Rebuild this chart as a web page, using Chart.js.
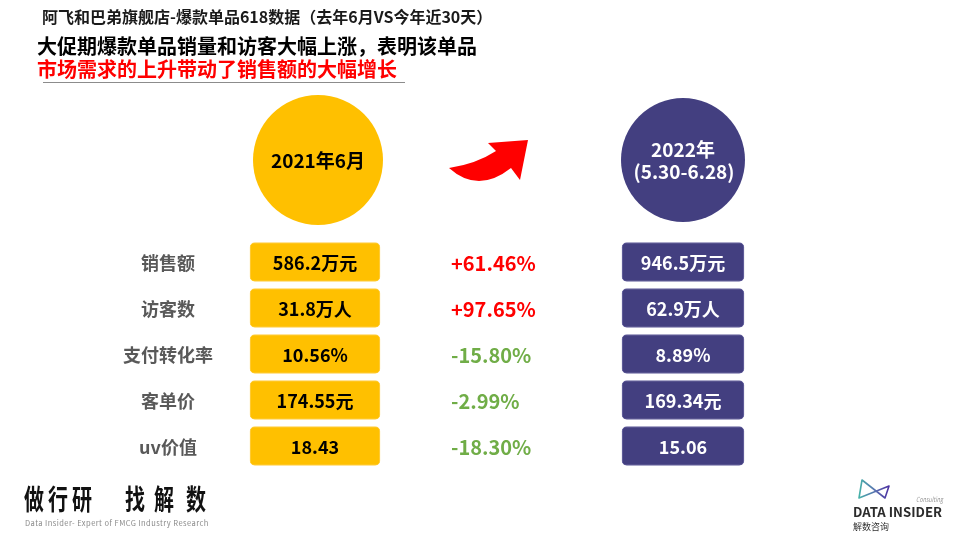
<!DOCTYPE html>
<html>
<head>
<meta charset="utf-8">
<script src="https://cdn.jsdelivr.net/npm/chart.js@4"></script>
<style>
html,body{margin:0;padding:0;background:#fff;}
#wrap{width:960px;height:540px;position:relative;}
</style>
</head>
<body>
<div id="wrap"><canvas id="c" width="960" height="540"></canvas></div>
<script>
// ---- data ----
const categories = ['销售额', '访客数', '支付转化率', '客单价', 'uv价值'];
const values2021 = [586.2, 31.8, 10.56, 174.55, 18.43];
const values2022 = [946.5, 62.9, 8.89, 169.34, 15.06];
const units = ['万元', '万人', '%', '元', ''];
const changes = [61.46, 97.65, -15.80, -2.99, -18.30];
const period2021 = '2021年6月';
const period2022 = ['2022年', '(5.30-6.28)'];
const titleTop = '阿飞和巴弟旗舰店-爆款单品618数据（去年6月VS今年近30天）';
const titleMain = '大促期爆款单品销量和访客大幅上涨，表明该单品';
const titleRed = '市场需求的上升带动了销售额的大幅增长';

// ---- layout (not data) ----
const BOX2021 = [250, 380];
const BOX2022 = [622, 744];
const FONT = '"Noto Sans CJK SC", "Noto Sans", sans-serif';
const YELLOW = '#FFC000';
const NAVY = '#433F80';

function fmt(v, u) { return String(v) + u; }
function fmtChange(v) { return (v > 0 ? '+' : '') + v.toFixed(2) + '%'; }

const decor = {
  id: 'decor',
  beforeDraw(chart) {
    const ctx = chart.ctx;
    ctx.save();
    ctx.fillStyle = '#fff';
    ctx.fillRect(0, 0, chart.width, chart.height);
    ctx.restore();
  },
  afterDatasetsDraw(chart) {
    const ctx = chart.ctx;
    const yScale = chart.scales.y;
    ctx.save();
    ctx.textBaseline = 'middle';
    // titles
    ctx.fillStyle = '#1a1a1a';
    ctx.font = 'bold 16px ' + FONT;
    ctx.textAlign = 'left';
    ctx.fillText(titleTop, 42, 17);
    ctx.font = 'bold 20px ' + FONT;
    ctx.fillStyle = '#000';
    ctx.fillText(titleMain, 37, 46);
    ctx.fillStyle = '#FF0000';
    ctx.fillText(titleRed, 37, 69);
    ctx.strokeStyle = '#8c8c8c';
    ctx.lineWidth = 1.2;
    ctx.beginPath(); ctx.moveTo(43, 82.5); ctx.lineTo(405, 82.5); ctx.stroke();

    // circles
    ctx.fillStyle = YELLOW;
    ctx.beginPath(); ctx.arc(318, 160, 65, 0, Math.PI * 2); ctx.fill();
    ctx.fillStyle = NAVY;
    ctx.beginPath(); ctx.arc(683, 160, 62, 0, Math.PI * 2); ctx.fill();
    ctx.textAlign = 'center';
    ctx.font = 'bold 19px ' + FONT;
    ctx.fillStyle = '#000';
    ctx.fillText(period2021, 318, 161);
    ctx.fillStyle = '#fff';
    ctx.fillText(period2022[0], 683, 150);
    ctx.fillText(period2022[1], 684, 172);

    // arrow
    ctx.fillStyle = '#FF0000';
    ctx.beginPath();
    ctx.moveTo(449, 168);
    ctx.quadraticCurveTo(476, 164, 496, 151);
    ctx.lineTo(488, 143);
    ctx.lineTo(528, 140);
    ctx.lineTo(520, 180);
    ctx.lineTo(511, 168);
    ctx.quadraticCurveTo(478, 194, 449, 168);
    ctx.closePath();
    ctx.fill();

    // row labels, values, changes
    const m1 = chart.getDatasetMeta(0).data;
    const m2 = chart.getDatasetMeta(1).data;
    categories.forEach((cat, i) => {
      const y = yScale.getPixelForValue(i);
      ctx.textAlign = 'center';
      ctx.font = 'bold 18px ' + FONT;
      ctx.fillStyle = '#595959';
      ctx.fillText(cat, 168, y + 1);
      ctx.fillStyle = '#000';
      const b1 = m1[i];
      ctx.fillText(fmt(values2021[i], units[i]), (b1.x + b1.base) / 2, y + 1);
      ctx.fillStyle = '#fff';
      const b2 = m2[i];
      ctx.fillText(fmt(values2022[i], units[i]), (b2.x + b2.base) / 2, y + 1);
      ctx.textAlign = 'left';
      ctx.font = 'bold 20px ' + FONT;
      ctx.fillStyle = changes[i] > 0 ? '#FF0000' : '#70AD47';
      ctx.fillText(fmtChange(changes[i]), 451, y + 1);
    });

    // bottom-left logo
    ctx.fillStyle = '#111';
    ctx.textAlign = 'left';
    ctx.font = 'bold 28px ' + FONT;
    const logoChars = [['做', 24], ['行', 48], ['研', 72], ['找', 125], ['解', 154], ['数', 186]];
    logoChars.forEach(([ch, x]) => ctx.fillText(ch, x, 499, 20));
    ctx.fillStyle = '#8a8a8a';
    ctx.font = '7.5px ' + FONT;
    try { ctx.letterSpacing = '0.45px'; } catch (e) {}
    ctx.fillText('Data Insider- Expert of FMCG Industry Research', 25, 523, 184);
    try { ctx.letterSpacing = '0px'; } catch (e) {}

    // bottom-right logo
    ctx.lineWidth = 1.6;
    ctx.lineJoin = 'round';
    const g = ctx.createLinearGradient(858, 0, 890, 0);
    g.addColorStop(0, '#45b5a8');
    g.addColorStop(0.55, '#5a6fb0');
    g.addColorStop(1, '#4b2ca0');
    ctx.strokeStyle = g;
    ctx.beginPath();
    ctx.moveTo(862, 480);
    ctx.lineTo(885, 498);
    ctx.lineTo(889, 486);
    ctx.lineTo(859, 498);
    ctx.closePath();
    ctx.stroke();
    ctx.fillStyle = '#999';
    ctx.font = 'italic 7px ' + FONT;
    ctx.fillText('Consulting', 916, 499, 27);
    ctx.fillStyle = '#2b2b2b';
    ctx.font = 'bold 13.5px ' + FONT;
    ctx.fillText('DATA INSIDER', 853, 512, 89);
    ctx.font = '9px ' + FONT;
    ctx.fillStyle = '#333';
    ctx.fillText('解数咨询', 853, 527);
    ctx.restore();
  }
};

new Chart(document.getElementById('c'), {
  type: 'bar',
  data: {
    labels: categories,
    datasets: [
      {
        label: '2021年6月',
        data: categories.map(() => BOX2021),
        backgroundColor: YELLOW,
        borderColor: '#FFD04D',
        borderWidth: 1,
        borderRadius: 5,
        borderSkipped: false,
        grouped: false,
        barThickness: 39
      },
      {
        label: '2022年',
        data: categories.map(() => BOX2022),
        backgroundColor: NAVY,
        borderColor: '#6C69A3',
        borderWidth: 1,
        borderRadius: 5,
        borderSkipped: false,
        grouped: false,
        barThickness: 39
      }
    ]
  },
  options: {
    indexAxis: 'y',
    responsive: false,
    animation: false,
    devicePixelRatio: 1,
    layout: { padding: { top: 239, bottom: 71, left: 0, right: 0 } },
    scales: {
      x: { type: 'linear', min: 0, max: 960, display: false },
      y: { type: 'category', display: false, offset: true }
    },
    plugins: { legend: { display: false }, tooltip: { enabled: false } }
  },
  plugins: [decor]
});
</script>
</body>
</html>
